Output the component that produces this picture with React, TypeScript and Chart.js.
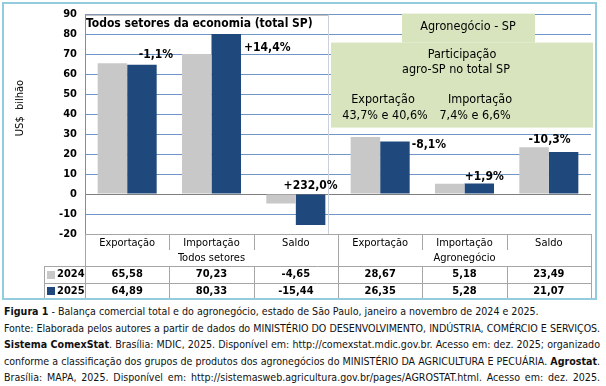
import React, { useEffect, useRef } from 'react';
import { Chart, registerables } from 'chart.js';

Chart.register(...registerables);

// ---------- data ----------
const categories = ['Exportação', 'Importação', 'Saldo', 'Exportação', 'Importação', 'Saldo'];
const groupLabels = ['Todos setores', 'Agronegócio'];
const seriesNames = ['2024', '2025'];
const values2024 = [65.58, 70.23, -4.65, 28.67, 5.18, 23.49];
const values2025 = [64.89, 80.33, -15.44, 26.35, 5.28, 21.07];
const tableText2024 = ['65,58', '70,23', '-4,65', '28,67', '5,18', '23,49'];
const tableText2025 = ['64,89', '80,33', '-15,44', '26,35', '5,28', '21,07'];
const changeLabels = ['-1,1%', '+14,4%', '+232,0%', '-8,1%', '+1,9%', '-10,3%'];
const yMin = -20;
const yMax = 90;
const yStep = 10;
const yTitle = 'US$  bilhão';
const chartTitle = 'Todos setores da economia (total SP)';
const agroTab = 'Agronegócio - SP';
const shareTitle = ['Participação', 'agro-SP no total SP'];
const shareExport = ['Exportação', '43,7% e 40,6%'];
const shareImport = ['Importação', '7,4% e 6,6%'];

// ---------- styles ----------
const FF = '"DejaVu Sans Condensed", "DejaVu Sans", sans-serif';
const GRAY = '#c8c8c8';
const NAVY = '#1f497d';
const GREEN = '#d7e4bd';
const GRID = '#6f96c6';
const LINE = '#a6a6a6';
const FRAME = '#93cddd';
// label offsets relative to the 2025 bar: [dx, dy, align, anchor]
const labelStyle: [number, number, CanvasTextAlign, string][] = [
  [14, -10, 'center', 'top'],
  [3, 14, 'left', 'top'],
  [0, -8, 'center', 'zero'],
  [2, 3, 'left', 'top'],
  [5, -7, 'center', 'top'],
  [-14, -12, 'center', 'top'],
];

const customPlugin = {
  id: 'custom',
  beforeDraw(chart: any) {
    const { ctx, width, height } = chart;
    ctx.save();
    ctx.fillStyle = '#ffffff';
    ctx.fillRect(0, 0, width, height);
    ctx.restore();
  },
  beforeDatasetsDraw(chart: any) {
    const { ctx, chartArea } = chart;
    const xs = chart.scales.x;
    const w = (xs.right - xs.left) / categories.length;
    const b3 = xs.left + 3 * w;
    const top = chartArea.top;
    ctx.save();
    // separator line
    ctx.strokeStyle = '#c9d2dc';
    ctx.lineWidth = 1;
    ctx.beginPath();
    ctx.moveTo(Math.round(b3 - 10) + 0.5, top);
    ctx.lineTo(Math.round(b3 - 10) + 0.5, chartArea.bottom);
    ctx.stroke();
    // title box
    ctx.fillStyle = '#ffffff';
    ctx.fillRect(chartArea.left + 1, top + 1, b3 - 11 - chartArea.left - 1, 18);
    ctx.strokeStyle = '#9a9a9a';
    ctx.beginPath();
    ctx.moveTo(chartArea.left, top + 0.5);
    ctx.lineTo(b3 - 10, top + 0.5);
    ctx.stroke();
    ctx.fillStyle = '#000';
    ctx.font = `bold 12px ${FF}`;
    ctx.textAlign = 'left';
    ctx.textBaseline = 'middle';
    ctx.fillText(chartTitle, chartArea.left + 1, top + 9);
    // green boxes
    ctx.fillStyle = GREEN;
    ctx.fillRect(b3 + 64, top - 1, 133, 29);
    ctx.fillRect(b3 - 7, top + 28, chartArea.right - (b3 - 7) + 2, 85);
    ctx.fillStyle = '#000';
    ctx.font = `12.5px ${FF}`;
    ctx.textAlign = 'center';
    ctx.fillText(agroTab, b3 + 130, top + 12);
    ctx.fillText(shareTitle[0], b3 + 124, top + 40);
    ctx.fillText(shareTitle[1], b3 + 118, top + 55);
    ctx.fillText(shareExport[0], b3 + 45, top + 85);
    ctx.fillText(shareExport[1], b3 + 47, top + 101);
    ctx.fillText(shareImport[0], b3 + 142, top + 85);
    ctx.fillText(shareImport[1], b3 + 137, top + 101);
    ctx.restore();
  },
  afterDatasetsDraw(chart: any) {
    const { ctx, chartArea } = chart;
    const xs = chart.scales.x;
    const ys = chart.scales.y;
    const n = categories.length;
    const w = (xs.right - xs.left) / n;
    const L = xs.left;
    const R = xs.right;
    ctx.save();
    // change labels
    const meta = chart.getDatasetMeta(1);
    ctx.font = `bold 12px ${FF}`;
    ctx.fillStyle = '#000';
    ctx.textBaseline = 'middle';
    meta.data.forEach((bar: any, i: number) => {
      const [dx, dy, align, anchor] = labelStyle[i];
      const half = bar.width / 2;
      let x = bar.x + dx;
      if (align === 'left') x = bar.x + half + dx;
      const baseY = anchor === 'zero' ? ys.getPixelForValue(0) : bar.y;
      ctx.textAlign = align;
      ctx.fillText(changeLabels[i], x, baseY + dy);
    });
    // y title
    ctx.save();
    ctx.translate(20, 108);
    ctx.rotate(-Math.PI / 2);
    ctx.font = `11px ${FF}`;
    ctx.textAlign = 'center';
    ctx.fillText(yTitle, 0, 0);
    ctx.restore();

    // data table
    const top = chartArea.bottom;
    const hB = top + 32;
    const r1B = top + 49;
    const bot = top + 64;
    const legL = 44;
    const px = (v: number) => Math.round(v) + 0.5;
    ctx.strokeStyle = LINE;
    ctx.lineWidth = 1;
    const line = (x1: number, y1: number, x2: number, y2: number) => {
      ctx.beginPath();
      ctx.moveTo(x1, y1);
      ctx.lineTo(x2, y2);
      ctx.stroke();
    };
    line(legL, px(hB), R, px(hB));
    line(legL, px(r1B), R, px(r1B));
    line(legL, px(bot), R, px(bot));
    line(px(legL), hB, px(legL), bot);
    line(px(L), top, px(L), bot);
    line(px(R), top, px(R), bot);
    for (let i = 1; i < n; i++) {
      const bx = px(L + i * w);
      if (i === 3) {
        line(bx, top, bx, bot);
      } else {
        line(bx, top, bx, top + 16);
        line(bx, hB, bx, bot);
      }
    }
    ctx.fillStyle = '#000';
    ctx.textAlign = 'center';
    ctx.textBaseline = 'middle';
    ctx.font = `11px ${FF}`;
    for (let i = 0; i < n; i++) {
      ctx.fillText(categories[i], L + (i + 0.5) * w, top + 9.5);
    }
    ctx.fillText(groupLabels[0], L + 1.5 * w, top + 24.5);
    ctx.fillText(groupLabels[1], L + 4.5 * w, top + 24.5);
    ctx.font = `bold 11px ${FF}`;
    for (let i = 0; i < n; i++) {
      ctx.fillText(tableText2024[i], L + (i + 0.5) * w, hB + 8.5);
      ctx.fillText(tableText2025[i], L + (i + 0.5) * w, r1B + 8);
    }
    // legend cells
    ctx.fillStyle = GRAY;
    ctx.fillRect(legL + 3, hB + 5, 8, 8);
    ctx.fillStyle = NAVY;
    ctx.fillRect(legL + 3, r1B + 4, 8, 8);
    ctx.fillStyle = '#000';
    ctx.textAlign = 'left';
    ctx.fillText(seriesNames[0], legL + 13, hB + 8.5);
    ctx.fillText(seriesNames[1], legL + 13, r1B + 8);

    // frame
    ctx.strokeStyle = FRAME;
    ctx.lineWidth = 2;
    ctx.strokeRect(3, 3, R + 2, bot - 2);
    ctx.restore();
  },
};

export default function App() {
  const canvasRef = useRef<HTMLCanvasElement | null>(null);

  useEffect(() => {
    if (!canvasRef.current) return;
    const chart = new Chart(canvasRef.current, {
      type: 'bar',
      data: {
        labels: categories,
        datasets: [
          { label: seriesNames[0], data: values2024, backgroundColor: GRAY, borderWidth: 0 },
          { label: seriesNames[1], data: values2025, backgroundColor: NAVY, borderWidth: 0 },
        ],
      },
      options: {
        animation: false,
        responsive: false,
        maintainAspectRatio: false,
        devicePixelRatio: 1,
        layout: { padding: { left: 0, right: 15, top: 8, bottom: 66 } },
        datasets: { bar: { categoryPercentage: 0.7, barPercentage: 1 } },
        plugins: {
          legend: { display: false },
          tooltip: { enabled: false },
          title: { display: false },
        },
        scales: {
          x: { display: false },
          y: {
            min: yMin,
            max: yMax,
            afterFit: (s: any) => {
              s.width = 85;
            },
            ticks: {
              stepSize: yStep,
              color: '#000',
              padding: 8,
              font: { family: FF, size: 11, weight: 'bold' },
            },
            grid: {
              drawTicks: false,
              color: (c: any) =>
                c.tick && c.tick.value === 0 ? '#7f7f7f' : c.tick && c.tick.value === yMin ? LINE : GRID,
            },
            border: { display: true, color: '#8c8c8c' },
          },
        },
      },
      plugins: [customPlugin],
    } as any);
    return () => chart.destroy();
  }, []);

  const lineStyle: React.CSSProperties = {
    whiteSpace: 'nowrap',
    textAlign: 'justify',
    textAlignLast: 'justify' as any,
    height: '16.6px',
  };

  return (
    <div style={{ position: 'relative', width: 606, height: 386, background: '#fff', fontFamily: FF }}>
      <style>{'body{margin:0}'}</style>
      <canvas ref={canvasRef} width={606} height={300} style={{ position: 'absolute', left: 0, top: 0 }} />
      <div
        style={{
          position: 'absolute',
          left: 4,
          top: 303,
          width: 596,
          fontSize: '10.6px',
          lineHeight: '16.6px',
          color: '#111',
        }}
      >
        <div style={{ whiteSpace: 'nowrap', height: '16.6px' }}>
          <b>Figura 1</b> - Balança comercial total e do agronegócio, estado de São Paulo, janeiro a novembro de 2024 e 2025.
        </div>
        <div style={{ ...lineStyle, letterSpacing: '-0.07px' }}>
          Fonte: Elaborada pelos autores a partir de dados do MINISTÉRIO DO DESENVOLVIMENTO, INDÚSTRIA, COMÉRCIO E SERVIÇOS.
        </div>
        <div style={lineStyle}>
          <b>Sistema ComexStat</b>. Brasília: MDIC, 2025. Disponível em: http://comexstat.mdic.gov.br. Acesso em: dez. 2025; organizado
        </div>
        <div style={lineStyle}>
          conforme a classificação dos grupos de produtos dos agronegócios do MINISTÉRIO DA AGRICULTURA E PECUÁRIA. <b>Agrostat</b>.
        </div>
        <div style={lineStyle}>
          Brasília: MAPA, 2025. Disponível em: http://sistemasweb.agricultura.gov.br/pages/AGROSTAT.html. Acesso em: dez. 2025.
        </div>
      </div>
    </div>
  );
}
